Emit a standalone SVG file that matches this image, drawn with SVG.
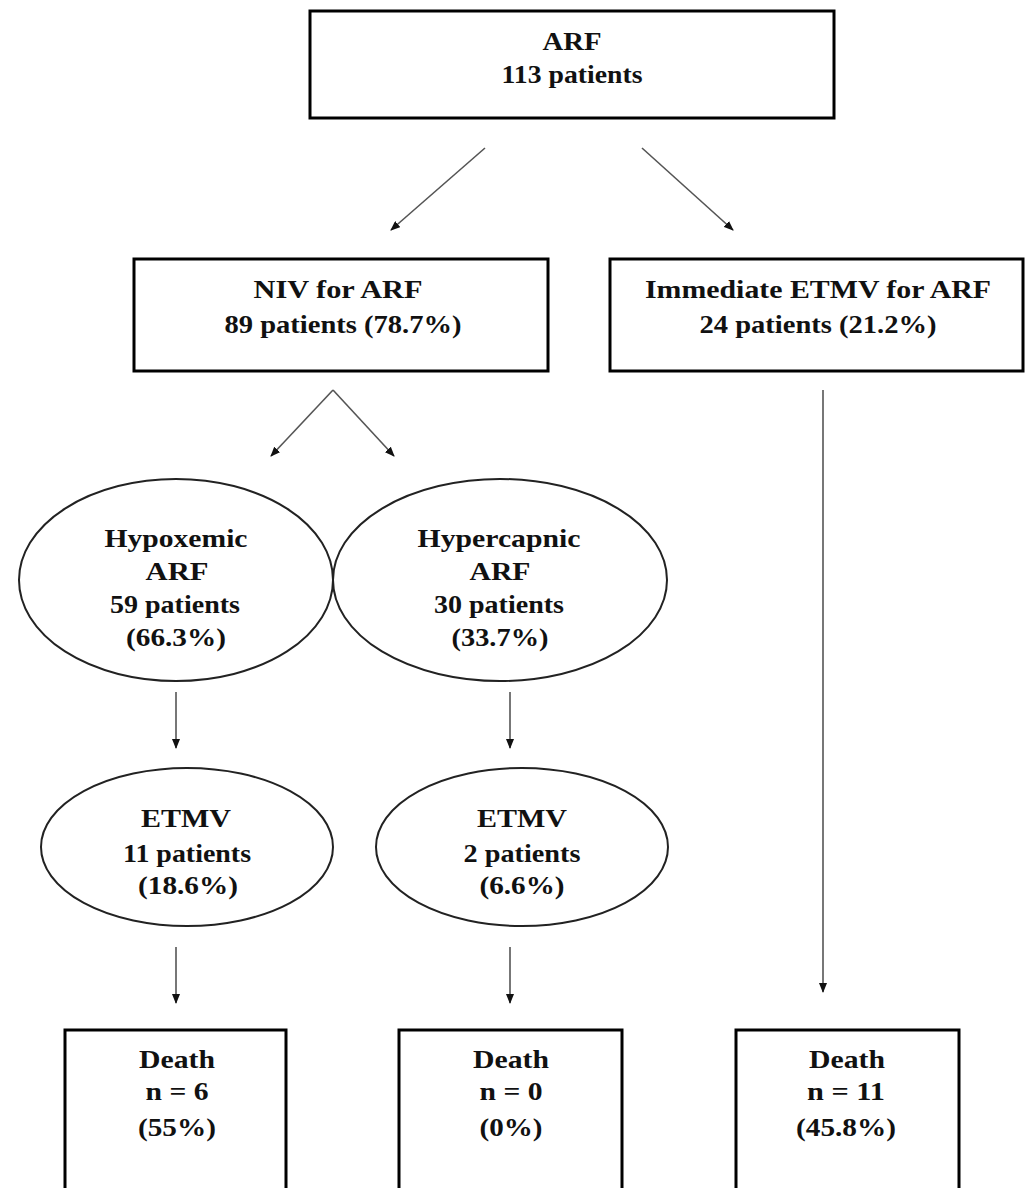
<svg xmlns="http://www.w3.org/2000/svg" width="1026" height="1188" viewBox="0 0 1026 1188">
<style>
.box{fill:#fff;stroke:#000;stroke-width:3}
.ell{fill:#fff;stroke:#222;stroke-width:2}
.t{font-family:"Liberation Serif","Times New Roman",serif;font-size:26px;font-weight:bold;fill:#111;text-anchor:middle}
.c{fill:none;stroke:#555;stroke-width:1.6}
</style>
<defs>
<marker id="ah" markerWidth="10" markerHeight="8" refX="9" refY="4" orient="auto" markerUnits="userSpaceOnUse">
<path d="M0,0 L10,4 L0,8 Z" fill="#111"/>
</marker>
</defs>
<g id="connectors">
<line class="c" x1="485" y1="148" x2="391" y2="230" marker-end="url(#ah)"/>
<line class="c" x1="642" y1="148" x2="733" y2="230" marker-end="url(#ah)"/>
<line class="c" x1="333" y1="390" x2="271" y2="456" marker-end="url(#ah)"/>
<line class="c" x1="333" y1="390" x2="394" y2="456" marker-end="url(#ah)"/>
<line class="c" x1="823" y1="390" x2="823" y2="992" marker-end="url(#ah)"/>
<line class="c" x1="176" y1="692" x2="176" y2="748" marker-end="url(#ah)"/>
<line class="c" x1="510" y1="692" x2="510" y2="748" marker-end="url(#ah)"/>
<line class="c" x1="176" y1="947" x2="176" y2="1003" marker-end="url(#ah)"/>
<line class="c" x1="510" y1="947" x2="510" y2="1003" marker-end="url(#ah)"/>
</g>
<g id="arf">
<rect class="box" x="310" y="11" width="524" height="107"/>
<text class="t" x="572" y="50" textLength="59" lengthAdjust="spacingAndGlyphs">ARF</text>
<text class="t" x="572" y="83" textLength="141" lengthAdjust="spacingAndGlyphs">113 patients</text>
</g>
<g id="niv">
<rect class="box" x="134" y="259" width="414" height="112"/>
<text class="t" x="338" y="298" textLength="169" lengthAdjust="spacingAndGlyphs">NIV for ARF</text>
<text class="t" x="343" y="333" textLength="237" lengthAdjust="spacingAndGlyphs">89 patients (78.7%)</text>
</g>
<g id="immediate">
<rect class="box" x="610" y="259" width="413" height="112"/>
<text class="t" x="818" y="298" textLength="346" lengthAdjust="spacingAndGlyphs">Immediate ETMV for ARF</text>
<text class="t" x="818" y="333" textLength="237" lengthAdjust="spacingAndGlyphs">24 patients (21.2%)</text>
</g>
<g id="hypoxemic">
<ellipse class="ell" cx="176" cy="580" rx="157" ry="101"/>
<text class="t" x="176" y="547" textLength="143" lengthAdjust="spacingAndGlyphs">Hypoxemic</text>
<text class="t" x="177" y="580" textLength="63" lengthAdjust="spacingAndGlyphs">ARF</text>
<text class="t" x="175" y="613" textLength="130" lengthAdjust="spacingAndGlyphs">59 patients</text>
<text class="t" x="176" y="646" textLength="100" lengthAdjust="spacingAndGlyphs">(66.3%)</text>
</g>
<g id="hypercapnic">
<ellipse class="ell" cx="500" cy="580" rx="167" ry="101"/>
<text class="t" x="499" y="547" textLength="163" lengthAdjust="spacingAndGlyphs">Hypercapnic</text>
<text class="t" x="500" y="580" textLength="61" lengthAdjust="spacingAndGlyphs">ARF</text>
<text class="t" x="499" y="613" textLength="130" lengthAdjust="spacingAndGlyphs">30 patients</text>
<text class="t" x="500" y="646" textLength="97" lengthAdjust="spacingAndGlyphs">(33.7%)</text>
</g>
<g id="etmv-left">
<ellipse class="ell" cx="187" cy="847" rx="146" ry="79"/>
<text class="t" x="186" y="827" textLength="90" lengthAdjust="spacingAndGlyphs">ETMV</text>
<text class="t" x="187" y="862" textLength="128" lengthAdjust="spacingAndGlyphs">11 patients</text>
<text class="t" x="188" y="894" textLength="100" lengthAdjust="spacingAndGlyphs">(18.6%)</text>
</g>
<g id="etmv-right">
<ellipse class="ell" cx="522" cy="847" rx="146" ry="79"/>
<text class="t" x="522" y="827" textLength="90" lengthAdjust="spacingAndGlyphs">ETMV</text>
<text class="t" x="522" y="862" textLength="117" lengthAdjust="spacingAndGlyphs">2 patients</text>
<text class="t" x="522" y="894" textLength="85" lengthAdjust="spacingAndGlyphs">(6.6%)</text>
</g>
<g id="death-left">
<path class="box" d="M65,1200 V1030 H286 V1200"/>
<text class="t" x="177" y="1068" textLength="76" lengthAdjust="spacingAndGlyphs">Death</text>
<text class="t" x="177" y="1100" textLength="63" lengthAdjust="spacingAndGlyphs">n = 6</text>
<text class="t" x="177" y="1136" textLength="78" lengthAdjust="spacingAndGlyphs">(55%)</text>
</g>
<g id="death-mid">
<path class="box" d="M399,1200 V1030 H622 V1200"/>
<text class="t" x="511" y="1068" textLength="76" lengthAdjust="spacingAndGlyphs">Death</text>
<text class="t" x="511" y="1100" textLength="63" lengthAdjust="spacingAndGlyphs">n = 0</text>
<text class="t" x="511" y="1136" textLength="63" lengthAdjust="spacingAndGlyphs">(0%)</text>
</g>
<g id="death-right">
<path class="box" d="M736,1200 V1030 H959 V1200"/>
<text class="t" x="847" y="1068" textLength="76" lengthAdjust="spacingAndGlyphs">Death</text>
<text class="t" x="846" y="1100" textLength="78" lengthAdjust="spacingAndGlyphs">n = 11</text>
<text class="t" x="846" y="1136" textLength="100" lengthAdjust="spacingAndGlyphs">(45.8%)</text>
</g>
</svg>
